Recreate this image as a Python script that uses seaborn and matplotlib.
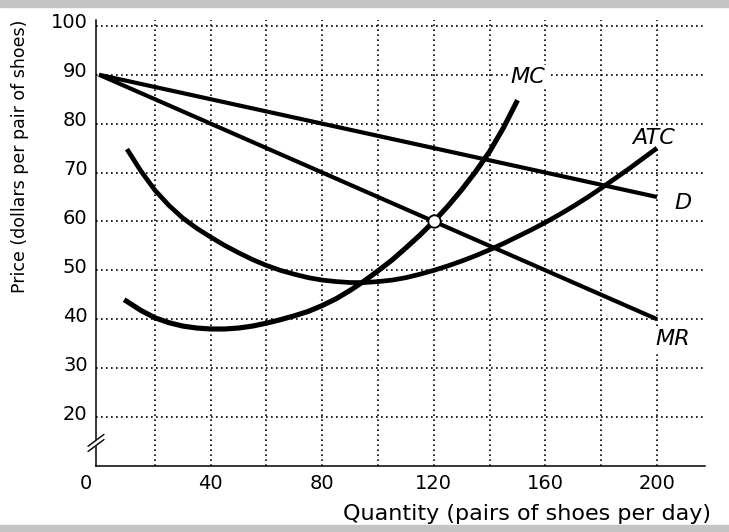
import matplotlib
matplotlib.use("Agg")
import matplotlib.pyplot as plt
import matplotlib.transforms as mtransforms
import matplotlib.patches as mpatches
import seaborn as sns

sns.set_style("white")
plt.rcParams["font.family"] = ["DejaVu Sans"]
plt.rcParams["text.color"] = "black"
plt.rcParams["axes.labelcolor"] = "black"
plt.rcParams["xtick.color"] = "black"
plt.rcParams["ytick.color"] = "black"

# curves
Q_D = [0, 200]
P_D = [90, 65]

Q_MR = [0, 200]
P_MR = [90, 40]

Q_MC = [9, 15, 20, 25, 30, 35, 40, 45, 50, 55, 60, 65, 70, 75, 80, 85, 90, 95, 100,
        105, 110, 115, 120, 125, 130, 135, 140, 145, 150]
P_MC = [44.0, 41.8, 40.3, 39.3, 38.6, 38.2, 38.0, 38.0, 38.2, 38.6, 39.2, 39.9, 40.7, 41.6, 42.8,
        44.2, 45.9, 47.8, 49.9, 52.1, 54.6, 57.2, 60.0, 63.1, 66.5, 70.2, 74.3, 79.2, 84.8]

Q_ATC = [10, 15, 20, 25, 30, 35, 40, 45, 50, 55, 60, 65, 70, 75, 80, 85, 90, 95, 100,
         105, 110, 115, 120, 125, 130, 135, 140, 145, 150, 155, 160, 165, 170, 175, 180,
         185, 190, 195, 200]
P_ATC = [74.8, 70.3, 66.4, 63.3, 60.7, 58.6, 56.8, 55.1, 53.6, 52.2, 51.0, 50.0, 49.2, 48.5, 48.0,
         47.7, 47.5, 47.5, 47.7, 48.0, 48.5, 49.2, 50.0, 50.9, 51.9, 53.0, 54.2, 55.5, 56.9, 58.3,
         59.8, 61.4, 63.1, 64.9, 66.8, 68.8, 70.8, 72.9, 75.0]

# profit-maximising point (MR = MC)
Q_OPT = [120]
P_OPT = [60]

X_TICKS = [0, 20, 40, 60, 80, 100, 120, 140, 160, 180, 200]
X_LABELS = ["0", "", "40", "", "80", "", "120", "", "160", "", "200"]
Y_TICKS = [20, 30, 40, 50, 60, 70, 80, 90, 100]

fig = plt.figure(figsize=(7.29, 5.32), dpi=100)
fig.patch.set_facecolor("white")

# grey bands top and bottom
fig.patches.append(mpatches.Rectangle((0, 1 - 7 / 532), 1, 7 / 532, transform=fig.transFigure,
                                      color="#c4c4c4", zorder=0))
fig.patches.append(mpatches.Rectangle((0, 0), 1, 7 / 532, transform=fig.transFigure,
                                      color="#c4c4c4", zorder=0))

ax = fig.add_axes([96 / 729, 1 - 466 / 532, 609 / 729, 446 / 532])
ax.set_facecolor("white")

line_kw = dict(ax=ax, color="black", solid_capstyle="butt", solid_joinstyle="round")
sns.lineplot(x=Q_D, y=P_D, lw=3.0, **line_kw)
sns.lineplot(x=Q_MR, y=P_MR, lw=3.0, **line_kw)
sns.lineplot(x=Q_ATC, y=P_ATC, lw=3.4, **line_kw)
sns.lineplot(x=Q_MC, y=P_MC, lw=3.7, **line_kw)
sns.scatterplot(x=Q_OPT, y=P_OPT, ax=ax, s=80, color="white", edgecolor="black",
                linewidth=1.3, zorder=5)

ax.set_xlim(-1.1, 217.2)
ax.set_ylim(9.98, 101.2)

for side in ["top", "right"]:
    ax.spines[side].set_visible(False)
for side in ["left", "bottom"]:
    ax.spines[side].set_linewidth(1.1)
    ax.spines[side].set_color("black")

ax.set_xticks(X_TICKS)
ax.set_xticklabels(X_LABELS)
ax.set_yticks(Y_TICKS)
ax.set_yticklabels([str(v) for v in Y_TICKS])
ax.tick_params(axis="both", direction="in", length=5, width=1.1, color="black",
               labelsize=14, pad=6)

ax.grid(True, color="black", linestyle=(0, (1, 2)), linewidth=1.2)
ax.xaxis.get_gridlines()[0].set_visible(False)
ax.xaxis.get_major_ticks()[0].tick1line.set_visible(False)

# y labels sit a little above their gridlines, "0" sits at the corner
up = mtransforms.ScaledTranslation(0, 5 / 100, fig.dpi_scale_trans)
for lab in ax.get_yticklabels():
    lab.set_transform(lab.get_transform() + up)
left = mtransforms.ScaledTranslation(-13 / 100, 0, fig.dpi_scale_trans)
zero = ax.get_xticklabels()[0]
zero.set_transform(zero.get_transform() + left)

ax.set_xlabel("Quantity (pairs of shoes per day)", fontsize=16, ha="right")
ax.xaxis.set_label_coords(1.01, -0.085)
ax.set_ylabel("Price (dollars per pair of shoes)", fontsize=12.5, ha="right")
ax.yaxis.set_label_coords(-0.11, 1.0)

# curve labels (white box breaks the dotted grid, but sits under the curves)
lab_kw = dict(fontsize=16, style="italic", ha="center", va="center", zorder=1.8,
              bbox=dict(facecolor="white", edgecolor="none", pad=1.5))
ax.text(153.8, 89.6, "MC", **lab_kw)
ax.text(198.6, 77.1, "ATC", **lab_kw)
ax.text(209.3, 63.8, "D", **lab_kw)
ax.text(205.8, 36.0, "MR", **lab_kw)

# axis break on the price axis
yb = (14.7 - 9.98) / (101.2 - 9.98)
dx, dy = 8 / 609, 6 / 446
gap = 2.6 / 446
ax.plot([-dx, dx], [yb - dy, yb + dy], transform=ax.transAxes, color="white", lw=4, clip_on=False, zorder=6)
for off in (-gap, gap):
    ax.plot([-dx, dx], [yb - dy + off, yb + dy + off], transform=ax.transAxes, color="black",
            lw=1.0, clip_on=False, zorder=7)

fig.savefig("out.png", dpi=100, facecolor="white")
